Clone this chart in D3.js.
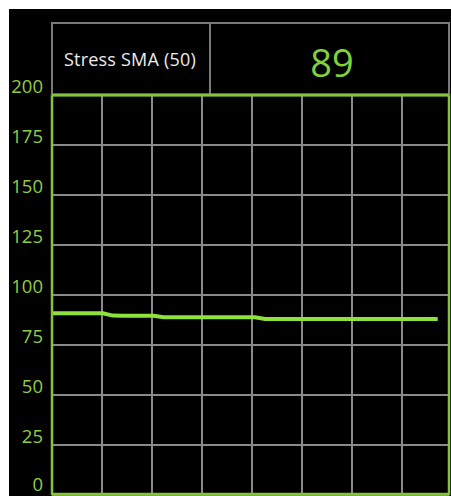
<!DOCTYPE html>
<html>
<head>
<meta charset="utf-8">
<script src="https://cdn.jsdelivr.net/npm/d3@7"></script>
<style>
  body { margin: 0; background: #fff; }
  svg { display: block; }
</style>
</head>
<body>
<div id="chart"></div>
<script>
// header content
var title = "Stress SMA (50)"
var currentValue = "89"

// y axis ticks
var yTicks = [0, 25, 50, 75, 100, 125, 150, 175, 200]

// stress SMA samples (one per step)
var stressSMA = [
	90.9, 90.9, 90.9, 90.9, 90.9, 90.9, 89.7, 89.6, 89.6, 89.6,
	89.6, 88.9, 88.9, 88.9, 88.9, 88.9, 88.9, 88.9, 88.9, 88.9,
	88.9, 88.0, 88.0, 88.0, 88.0, 88.0, 88.0, 88.0, 88.0, 88.0,
	88.0, 88.0, 88.0, 88.0, 88.0, 88.0, 88.0, 88.0, 88.0
]

createChart()

function createChart() {

	var width = 451
	var height = 496

	var plot = { left: 52, right: 452, top: 95, bottom: 495 }
	var header = { top: 23, divider: 210 }

	var svg = d3.select("#chart").append("svg")
		.attr("width", width)
		.attr("height", height)

	//black panel, leaves a thin white margin top/left
	svg.append("rect")
		.attr("x", 9).attr("y", 9)
		.attr("width", width - 9).attr("height", height - 9)
		.attr("fill", "#000")

	var xScale = d3.scaleLinear()
		.domain([0, 40])
		.range([plot.left, plot.right])

	var yScale = d3.scaleLinear()
		.domain([0, 200])
		.range([plot.bottom, plot.top])

	svg.append("clipPath").attr("id", "clip")
		.append("rect")
		.attr("x", plot.left).attr("y", plot.top - 2)
		.attr("width", 449 - plot.left).attr("height", plot.bottom - plot.top + 4)

	var g = svg.append("g").attr("clip-path", "url(#clip)")

	///////////////////////////// grid /////////////////////////////
	g.selectAll(".hgrid")
		.data(yTicks)
		.enter().append("line")
		.attr("x1", plot.left).attr("x2", plot.right)
		.attr("y1", d => yScale(d)).attr("y2", d => yScale(d))
		.attr("stroke", "#8a8a8a")
		.attr("stroke-width", 2)

	g.selectAll(".vgrid")
		.data(d3.range(0, 41, 5))
		.enter().append("line")
		.attr("x1", d => xScale(d)).attr("x2", d => xScale(d))
		.attr("y1", plot.top).attr("y2", plot.bottom)
		.attr("stroke", "#8a8a8a")
		.attr("stroke-width", 2)

	//////////////////////////// line /////////////////////////////
	var line = d3.line()
		.x((d, i) => xScale(i * 1.015))
		.y(d => yScale(d))

	g.append("path")
		.datum(stressSMA)
		.attr("d", line)
		.attr("fill", "none")
		.attr("stroke", "#8fe23c")
		.attr("stroke-width", 4)

	////////////////////////// plot frame //////////////////////////
	svg.append("rect")
		.attr("x", plot.left).attr("y", plot.top)
		.attr("width", 449 - plot.left).attr("height", plot.bottom - plot.top - 1)
		.attr("fill", "none")
		.attr("stroke", "#86c23e")
		.attr("stroke-width", 2.5)

	///////////////////////////// header /////////////////////////////
	svg.append("rect")
		.attr("x", plot.left).attr("y", header.top)
		.attr("width", 449 - plot.left).attr("height", plot.top - header.top)
		.attr("fill", "none")
		.attr("stroke", "#7a7a7a")
		.attr("stroke-width", 2)

	svg.append("line")
		.attr("x1", header.divider).attr("x2", header.divider)
		.attr("y1", header.top).attr("y2", plot.top)
		.attr("stroke", "#7a7a7a")
		.attr("stroke-width", 2)

	//redraw top border of plot in green over header box
	svg.append("line")
		.attr("x1", plot.left).attr("x2", 449)
		.attr("y1", plot.top).attr("y2", plot.top)
		.attr("stroke", "#86c23e")
		.attr("stroke-width", 3)

	svg.append("text")
		.attr("x", 64).attr("y", 66)
		.attr("fill", "#ececec")
		.style("font-family", "'Open Sans', sans-serif")
		.style("font-size", "18px")
		.style("letter-spacing", "0.2px")
		.text(title)

	svg.append("text")
		.attr("x", 332).attr("y", 77)
		.attr("text-anchor", "middle")
		.attr("fill", "#80d23a")
		.style("font-family", "'Open Sans', sans-serif")
		.style("font-size", "38px")
		.text(currentValue)

	///////////////////////////// y labels /////////////////////////////
	svg.selectAll(".ylab")
		.data(yTicks)
		.enter().append("text")
		.attr("x", 43)
		.attr("y", d => Math.min(yScale(d) - 2, 491))
		.attr("text-anchor", "end")
		.attr("fill", "#90cc44")
		.style("font-family", "'Open Sans', sans-serif")
		.style("font-size", "18.5px")
		.style("font-weight", 500)
		.text(d => d)

}//function createChart
</script>
</body>
</html>
